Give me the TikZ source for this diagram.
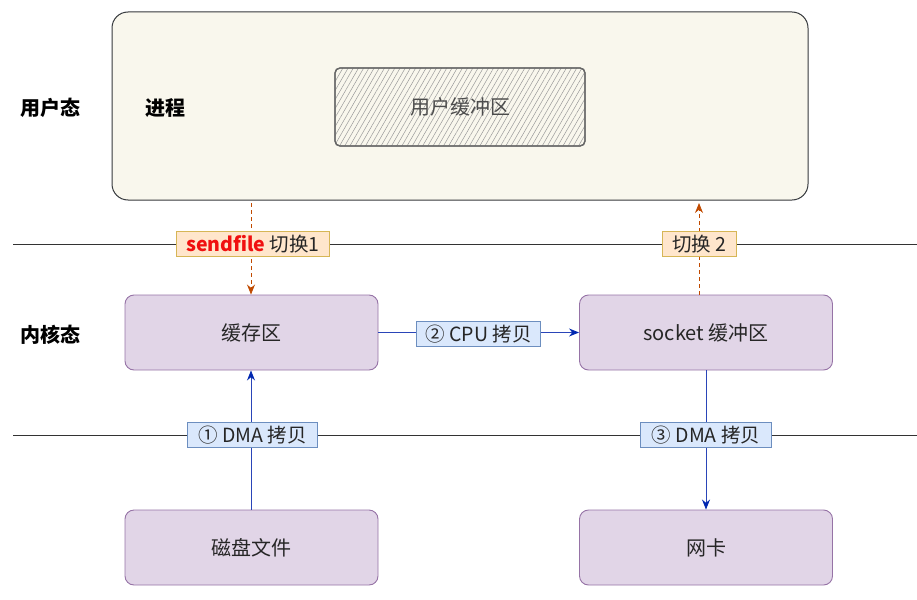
\documentclass[tikz,border=0pt]{standalone}
\usepackage{fontspec}
\setmainfont{Noto Sans CJK SC}
\usetikzlibrary{arrows.meta,patterns.meta}
\definecolor{procfill}{HTML}{F9F7ED}
\definecolor{procdraw}{HTML}{36393D}
\definecolor{purfill}{HTML}{E1D5E7}
\definecolor{purdraw}{HTML}{9673A6}
\definecolor{bluefill}{HTML}{DAE8FC}
\definecolor{bluedraw}{HTML}{6C8EBF}
\definecolor{orfill}{HTML}{FFE6CC}
\definecolor{ordraw}{HTML}{D6B656}
\definecolor{arrblue}{HTML}{0027B0}
\definecolor{linblue}{HTML}{2A45B8}
\definecolor{arrred}{HTML}{C04A00}
\definecolor{sfred}{HTML}{F01010}
\tikzset{
  px/.style={x=1pt,y=-1pt},
  kbox/.style={draw=purdraw,fill=purfill,rounded corners=9pt,line width=0.9pt,minimum width=253pt,minimum height=75pt,font=\fontsize{20}{24}\selectfont,text=black!85},
  lab/.style={line width=0.8pt,minimum height=25pt,inner ysep=0pt,font=\fontsize{19.5}{22}\selectfont,text=black!85},
  blab/.style={lab,draw=bluedraw,fill=bluefill},
  olab/.style={lab,draw=ordraw,fill=orfill},
  sidelab/.style={font=\fontsize{20}{24}\selectfont\bfseries},
  barr/.style={draw=linblue,line width=0.9pt,-{Stealth[length=10pt,width=8pt,color=arrblue]}},
  rarr/.style={draw=arrred,line width=0.9pt,dashed,dash pattern=on 4pt off 3pt,-{Stealth[length=10pt,width=8pt]}},
  sepline/.style={draw=black!80,line width=1pt}
}
\begin{document}
\begin{tikzpicture}[px]
\useasboundingbox (0,0) rectangle (917,599);
% process box
\node[draw=procdraw,fill=procfill,rounded corners=16pt,line width=1pt,minimum width=696pt,minimum height=188pt] (proc) at (460,106) {};
\node[draw=black!55,line width=1.2pt,rounded corners=5pt,minimum width=250pt,minimum height=78pt,
  fill=black!4,pattern={Lines[angle=60,distance=4.5pt,line width=0.5pt]},pattern color=black!40] (ubufp) at (460,107) {};
\node[draw=black!60,line width=1.3pt,rounded corners=5pt,minimum width=250pt,minimum height=78pt,font=\fontsize{20}{24}\selectfont,text=black!70] (ubuf) at (460,107) {用户缓冲区};
\node[sidelab] (proclab) at (165,108) {进程};
\node[sidelab] (userlab) at (50,108) {用户态};
\node[sidelab] (kernlab) at (50,335) {内核态};
% separator lines
\coordinate (l1a) at (13,244); \coordinate (l1b) at (917,244);
\coordinate (l2a) at (13,435); \coordinate (l2b) at (917,435);
\draw[sepline] (l1a) -- (l1b);
\draw[sepline] (l2a) -- (l2b);
% kernel boxes
\node[kbox] (cache) at (251.5,332.5) {缓存区};
\node[kbox] (sock) at (706,332.5) {socket 缓冲区};
\node[kbox] (disk) at (251.5,547.5) {磁盘文件};
\node[kbox] (nic) at (706,547.5) {网卡};
% arrows
\coordinate (p1) at (251,203);
\coordinate (p2) at (699,203);
\draw[rarr] (p1) -- (cache.north -| p1);
\draw[rarr] (sock.north -| p2) -- (p2);
\draw[barr] (disk.north -| p1) -- (cache.south -| p1);
\draw[barr] (cache.east) -- (sock.west);
\draw[barr] (sock.south) -- (nic.north);
% labels
\node[olab,inner xsep=10pt] (sw1) at (253,244) {\textcolor{sfred}{\bfseries sendfile} 切换1};
\node[olab,inner xsep=10pt] (sw2) at (699.5,244) {切换 2};
\node[blab,inner xsep=9pt] (cpu) at (478.5,334) {② CPU 拷贝};
\node[blab,inner xsep=11pt] (dma1) at (252.5,435) {① DMA 拷贝};
\node[blab,inner xsep=11pt] (dma3) at (706,435) {③ DMA 拷贝};
\end{tikzpicture}
\end{document}
